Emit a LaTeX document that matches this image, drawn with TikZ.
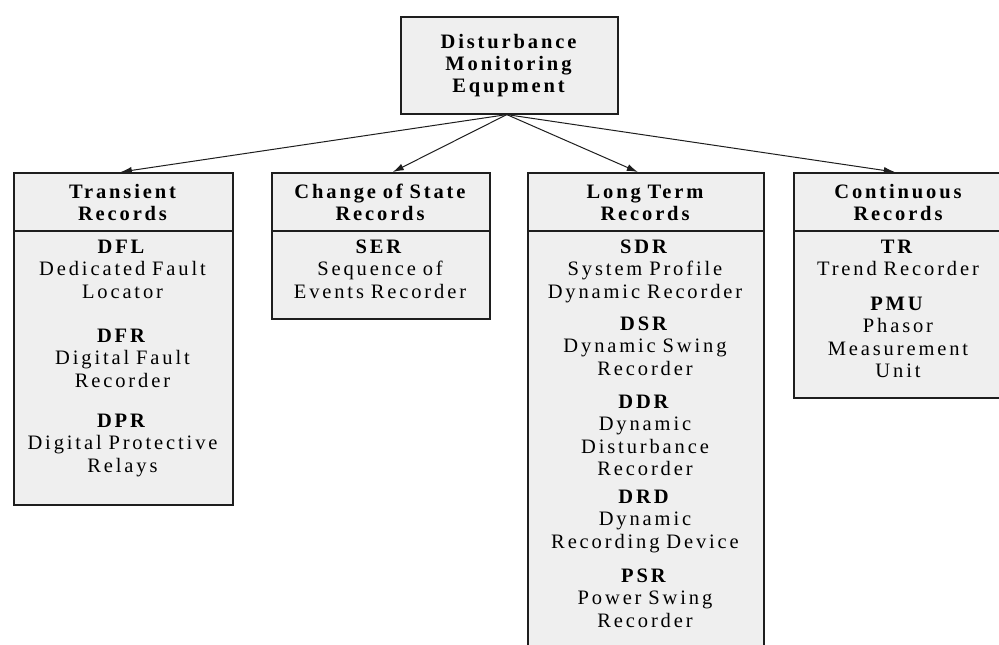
\documentclass[tikz,border=0pt]{standalone}
\usepackage{fontspec}
\setmainfont{Liberation Serif}[LetterSpace=14,WordSpace=1.4]
\usetikzlibrary{arrows.meta}
\definecolor{boxgray}{HTML}{EFEFEF}
\definecolor{edge}{HTML}{1E1E1E}
\tikzset{
  boxst/.style={draw=edge, line width=1.6pt, fill=boxgray, inner sep=0pt, anchor=north west},
  txt/.style={align=center, text width=236pt, font=\fontsize{20.5}{22.5}\selectfont, inner sep=0pt, anchor=base},
  hd/.style={align=center, text width=236pt, font=\fontsize{20.5}{22}\selectfont\bfseries, inner sep=0pt, anchor=base},
  conn/.style={draw=edge, line width=1pt, -{Latex[length=11pt,width=7pt]}},
  sep/.style={draw=edge, line width=1.4pt}
}
\begin{document}
\begin{tikzpicture}[x=1pt,y=-1pt]
\useasboundingbox (0,0) rectangle (999,645);
\clip (0,0) rectangle (999,645);
\fill[white] (0,0) rectangle (999,645);
% boxes
\node[boxst, minimum width=217pt, minimum height=97pt] (top) at (400,16) {};
\node[boxst, minimum width=219pt, minimum height=332pt] (trans) at (13,172) {};
\node[boxst, minimum width=218pt, minimum height=146pt] (cos) at (271,172) {};
\node[boxst, minimum width=236pt, minimum height=490pt] (lt) at (527,172) {};
\node[boxst, minimum width=212pt, minimum height=225pt] (cont) at (793,172) {};
% separators
\draw[sep] ([yshift=-59pt]trans.north west) -- ([yshift=-59pt]trans.north east);
\draw[sep] ([yshift=-59pt]cos.north west) -- ([yshift=-59pt]cos.north east);
\draw[sep] ([yshift=-59pt]lt.north west) -- ([yshift=-59pt]lt.north east);
\draw[sep] ([yshift=-59pt]cont.north west) -- ([yshift=-59pt]cont.north east);
% title
\node[hd] (title) at (508.5,48) {Disturbance\\Monitoring\\Equpment};
% headers
\node[hd] (transh) at (122.5,198) {Transient\\Records};
\node[hd] (cosh) at (380,198) {Change of State\\Records};
\node[hd] (lth) at (645,198) {Long Term\\Records};
\node[hd] (conth) at (898,198) {Continuous\\Records};
% transient body
\node[txt] (dfl) at (122.5,253) {\textbf{DFL}\\Dedicated Fault\\Locator};
\node[txt] (dfr) at (122.5,342) {\textbf{DFR}\\Digital Fault\\Recorder};
\node[txt] (dpr) at (122.5,427) {\textbf{DPR}\\Digital Protective\\Relays};
% change of state body
\node[txt] (ser) at (380,253) {\textbf{SER}\\Sequence of\\Events Recorder};
% long term body
\node[txt] (sdr) at (645,253) {\textbf{SDR}\\System Profile\\Dynamic Recorder};
\node[txt] (dsr) at (645,330) {\textbf{DSR}\\Dynamic Swing\\Recorder};
\node[txt] (ddr) at (645,408) {\textbf{DDR}\\Dynamic\\Disturbance\\Recorder};
\node[txt] (drd) at (645,503) {\textbf{DRD}\\Dynamic\\Recording Device};
\node[txt] (psr) at (645,582) {\textbf{PSR}\\Power Swing\\Recorder};
% continuous body
\node[txt] (tr) at (898,253) {\textbf{TR}\\Trend Recorder};
\node[txt] (pmu) at (898,310) {\textbf{PMU}\\Phasor\\Measurement\\Unit};
% connectors
\draw[conn] ([xshift=-2.5pt]top.south) -- ([xshift=-2.5pt]trans.north);
\draw[conn] ([xshift=-2.5pt]top.south) -- ([xshift=12pt]cos.north);
\draw[conn] ([xshift=-2.5pt]top.south) -- ([xshift=-8pt]lt.north);
\draw[conn] ([xshift=-2.5pt]top.south) -- ([xshift=-5pt]cont.north);
\end{tikzpicture}
\end{document}
